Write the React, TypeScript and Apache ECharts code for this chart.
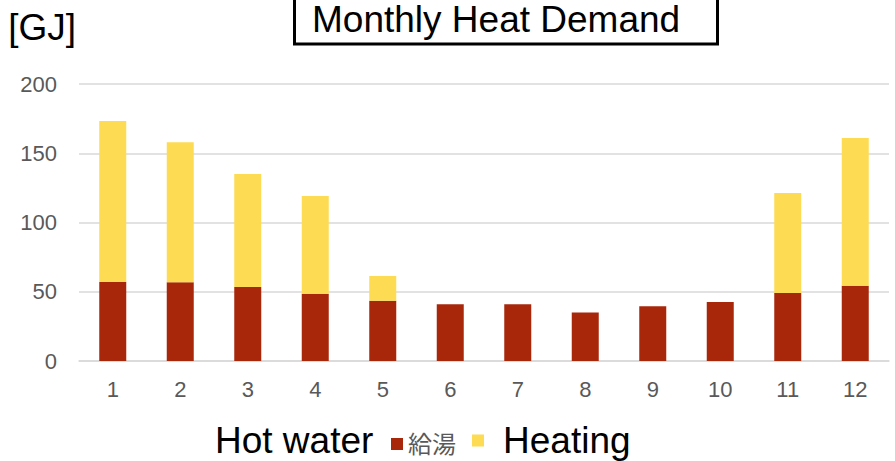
import React, { useEffect, useRef } from "react";
import * as echarts from "echarts";

const months = ["1", "2", "3", "4", "5", "6", "7", "8", "9", "10", "11", "12"];
const hotWater = [57.0, 56.8, 53.4, 48.6, 43.5, 40.9, 40.9, 35.1, 39.5, 42.6, 49.1, 54.4];
const heating = [116.3, 101.1, 81.6, 70.5, 17.9, 0, 0, 0, 0, 0, 72.2, 106.6];

const FONT = "'Liberation Sans', Arial, 'Noto Sans CJK JP', sans-serif";
const RED = "#A8270B";
const YELLOW = "#FDDB52";

export default function App() {
  const ref = useRef<HTMLDivElement>(null);
  useEffect(() => {
    if (!ref.current) return;
    const chart = echarts.init(ref.current, null, { renderer: "svg" });
    chart.setOption({
      animation: false,
      backgroundColor: "#ffffff",
      title: {
        text: "Monthly Heat Demand",
        left: 312,
        top: 1,
        padding: 0,
        textStyle: { fontFamily: FONT, fontSize: 37, lineHeight: 37, fontWeight: "normal", color: "#000" },
      },
      grid: { left: 79, right: 6, top: 84, bottom: 100, containLabel: false },
      legend: [
        {
          data: [{ name: "給湯", textStyle: { fontSize: 24, color: "#595959" } }],
          left: 391,
          top: 432,
          padding: 0,
          itemWidth: 12,
          itemHeight: 12,
          icon: "rect",
          textStyle: { fontFamily: FONT },
        },
        {
          data: [{ name: "Heating", textStyle: { fontSize: 37, lineHeight: 37, color: "#000", padding: [0, 0, 0, 14] } }],
          left: 472,
          top: 422,
          padding: 0,
          itemWidth: 12,
          itemHeight: 12,
          icon: "rect",
          textStyle: { fontFamily: FONT },
        },
      ],
      graphic: [
        {
          type: "rect",
          shape: { x: 294.5, y: -10, width: 423, height: 54 },
          style: { fill: "none", stroke: "#000", lineWidth: 3 },
          z: 10,
        },
        {
          type: "text",
          left: 215,
          top: 422,
          style: { text: "Hot water", fontFamily: FONT, fontSize: 37, lineHeight: 37, fill: "#000" },
        },
      ],
      xAxis: {
        type: "category",
        data: months,
        axisLine: { lineStyle: { color: "#d9d9d9", width: 1.5 } },
        axisTick: { show: false },
        axisLabel: { color: "#595959", fontSize: 22, fontFamily: FONT, margin: 17 },
      },
      yAxis: {
        type: "value",
        min: 0,
        max: 200,
        interval: 50,
        name: "[GJ]",
        nameLocation: "end",
        nameGap: 38,
        nameTextStyle: { fontFamily: FONT, fontSize: 37, color: "#000", align: "right", padding: [0, 3, 0, 0] },
        axisLine: { show: false },
        axisTick: { show: false },
        splitLine: { lineStyle: { color: "#d9d9d9", width: 1.5 } },
        axisLabel: { color: "#595959", fontSize: 22, fontFamily: FONT, margin: 22 },
      },
      series: [
        {
          name: "給湯",
          type: "bar",
          stack: "total",
          barWidth: "40%",
          data: hotWater,
          itemStyle: { color: RED },
        },
        {
          name: "Heating",
          type: "bar",
          stack: "total",
          barWidth: "40%",
          data: heating,
          itemStyle: { color: YELLOW },
        },
      ],
    });
    return () => chart.dispose();
  }, []);
  return <div ref={ref} style={{ position: "fixed", left: 0, top: 0, width: 895, height: 461 }} />;
}
